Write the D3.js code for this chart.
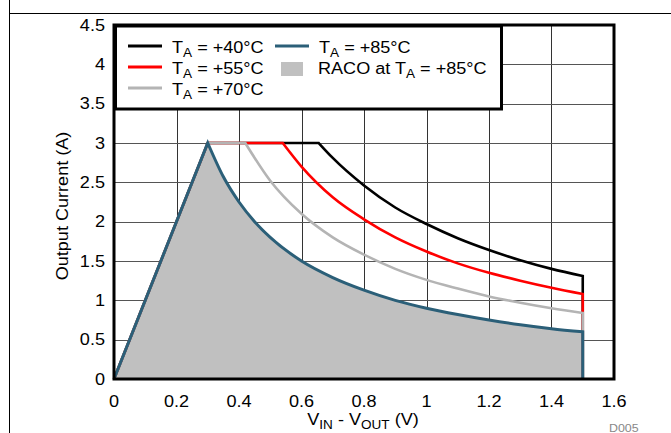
<!DOCTYPE html>
<html><head><meta charset="utf-8">
<script src="https://cdn.jsdelivr.net/npm/d3@7"></script>
<style>
html,body{margin:0;padding:0;background:#fff;}
svg{display:block;font-family:"Liberation Sans",Arial,Helvetica,sans-serif;}
</style></head>
<body><svg id="c" width="671" height="433"></svg>
<script>
// ---- data ----
const xTicks = [0, 0.2, 0.4, 0.6, 0.8, 1, 1.2, 1.4, 1.6];
const yTicks = [0, 0.5, 1, 1.5, 2, 2.5, 3, 3.5, 4, 4.5];
const xTickLabels = ["0", "0.2", "0.4", "0.6", "0.8", "1", "1.2", "1.4", "1.6"];
const yTickLabels = ["0", "0.5", "1", "1.5", "2", "2.5", "3", "3.5", "4", "4.5"];

// rising + flat part (linear) of each curve
const rise40 = [[0, 0], [0.3, 3], [0.655, 3]];
const rise55 = [[0, 0], [0.3, 3], [0.54, 3]];
const rise70 = [[0, 0], [0.3, 3], [0.42, 3]];
const rise85 = [[0, 0], [0.3, 3]];
// falling (derated) part of each curve
const fall40 = [[0.655, 3], [0.7, 2.81], [0.8, 2.46], [0.9, 2.18], [1.0, 1.97], [1.1, 1.79], [1.2, 1.64], [1.3, 1.51], [1.4, 1.40], [1.5, 1.31]];
const fall55 = [[0.54, 3], [0.6, 2.7], [0.7, 2.31], [0.8, 2.03], [0.9, 1.80], [1.0, 1.62], [1.1, 1.47], [1.2, 1.35], [1.3, 1.25], [1.4, 1.16], [1.5, 1.08]];
const fall70 = [[0.42, 3], [0.5, 2.52], [0.6, 2.10], [0.7, 1.80], [0.8, 1.58], [0.9, 1.40], [1.0, 1.26], [1.1, 1.15], [1.2, 1.05], [1.3, 0.97], [1.4, 0.90], [1.5, 0.84]];
const fall85 = [[0.3, 3], [0.35, 2.57], [0.4, 2.25], [0.45, 2.0], [0.5, 1.8], [0.6, 1.5], [0.7, 1.29], [0.8, 1.13], [0.9, 1.0], [1.0, 0.9], [1.1, 0.82], [1.2, 0.75], [1.3, 0.69], [1.4, 0.64], [1.5, 0.6]];
const endPoint = [1.5, 0];

const seriesNames = ["+40°C", "+55°C", "+70°C", "+85°C"];
const seriesColors = ["#000000", "#ff0000", "#b4b4b4", "#2b5f78"];

// ---- layout ----
const svg = d3.select("#c");
const L = 114, R = 614, T = 25, B = 379;
const SX = 1.13; // horizontal stretch of the reference's type
const x = d3.scaleLinear().domain([0, 1.6]).range([L, R]);
const y = d3.scaleLinear().domain([0, 4.5]).range([B, T]);

function txt(sel, tx, ty, anchor, size, rot) {
  return sel.append("text")
    .attr("transform", "translate(" + tx + "," + ty + ")" + (rot ? " rotate(" + rot + ")" : "") + " scale(" + SX + ",1)")
    .attr("x", 0).attr("y", 0).attr("text-anchor", anchor).attr("font-size", size).attr("fill", "#000");
}

// outer frame lines
svg.append("line").attr("x1", 9.5).attr("x2", 9.5).attr("y1", 0).attr("y2", 433).attr("stroke", "#000").attr("stroke-width", 1);
svg.append("line").attr("x1", 9).attr("x2", 671).attr("y1", 13.5).attr("y2", 13.5).attr("stroke", "#000").attr("stroke-width", 1);

// grid
const g = svg.append("g");
g.selectAll("line.v").data(xTicks).enter().append("line")
  .attr("x1", d => Math.round(x(d)) + 0.5).attr("x2", d => Math.round(x(d)) + 0.5)
  .attr("y1", T).attr("y2", B).attr("stroke", "#333").attr("stroke-width", 1);
g.selectAll("line.h").data(yTicks).enter().append("line")
  .attr("y1", d => Math.round(y(d)) + 0.5).attr("y2", d => Math.round(y(d)) + 0.5)
  .attr("x1", L).attr("x2", R).attr("stroke", "#555").attr("stroke-width", 1);

// path builders
const lin = d3.line().x(d => x(d[0])).y(d => y(d[1]));
const mono = d3.line().x(d => x(d[0])).y(d => y(d[1])).curve(d3.curveMonotoneX);
function buildPath(rise, fall) {
  return lin(rise) + mono(fall).replace(/^M/, "L") + "L" + x(endPoint[0]) + "," + y(endPoint[1]);
}

// area (RACO)
svg.append("path").attr("d", buildPath(rise85, fall85) + "Z").attr("fill", "#c0c0c0").attr("stroke", "none");

const rises = [rise40, rise55, rise70, rise85];
const falls = [fall40, fall55, fall70, fall85];
rises.forEach((r, i) => {
  svg.append("path").attr("d", buildPath(r, falls[i]))
    .attr("fill", "none").attr("stroke", seriesColors[i])
    .attr("stroke-width", i === 3 ? 3 : 2.6).attr("stroke-linejoin", "miter");
});

// legend
const lg = svg.append("g");
lg.append("rect").attr("x", 115.5).attr("y", 26).attr("width", 386).attr("height", 83)
  .attr("fill", "#fff").attr("stroke", "#000").attr("stroke-width", 3);
const legendPos = [[128, 53], [128, 74], [128, 95], [275, 53]];
function taText(sel, xx, yy, prefix, suffix) {
  const t = txt(sel, xx, yy, "start", 16);
  t.append("tspan").text(prefix + "T");
  t.append("tspan").attr("font-size", 12).attr("dy", 4).text("A");
  t.append("tspan").attr("dy", -4).text(" = " + suffix);
}
seriesNames.forEach((n, i) => {
  const [lx, ly] = legendPos[i];
  lg.append("line").attr("x1", lx).attr("x2", lx + 34).attr("y1", ly - 7).attr("y2", ly - 7)
    .attr("stroke", seriesColors[i]).attr("stroke-width", 3);
  taText(lg, lx + 44, ly, "", n);
});
lg.append("rect").attr("x", 281).attr("y", 62).attr("width", 22).attr("height", 14).attr("fill", "#c0c0c0");
taText(lg, 318, 74, "RACO at ", "+85°C");

// plot frame
svg.append("rect").attr("x", L).attr("y", T).attr("width", R - L).attr("height", B - T)
  .attr("fill", "none").attr("stroke", "#000").attr("stroke-width", 3);

// tick labels
xTicks.forEach((d, i) => { txt(svg, x(d), 407, "middle", 16).text(xTickLabels[i]); });
yTicks.forEach((d, i) => { txt(svg, 105, y(d) + 5.8, "end", 16).text(yTickLabels[i]); });

// axis titles
const xt = txt(svg, 363, 425, "middle", 16);
xt.append("tspan").text("V");
xt.append("tspan").attr("font-size", 12).attr("dy", 4).text("IN");
xt.append("tspan").attr("dy", -4).text(" - V");
xt.append("tspan").attr("font-size", 12).attr("dy", 4).text("OUT");
xt.append("tspan").attr("dy", -4).text(" (V)");

txt(svg, 68, 206, "middle", 16, -90).text("Output Current (A)");

txt(svg, 609, 432, "start", 11).attr("fill", "#888").text("D005");
</script></body></html>
